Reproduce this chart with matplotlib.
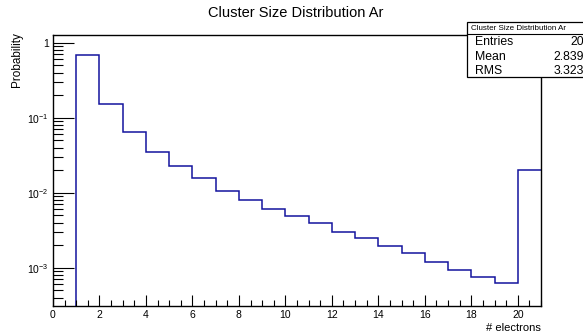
import matplotlib
matplotlib.use('Agg')
import matplotlib.pyplot as plt
import numpy as np
from matplotlib.ticker import LogLocator, MultipleLocator, FixedLocator, NullFormatter
from matplotlib.patches import Rectangle

plt.rcParams['font.family'] = ['Liberation Sans', 'DejaVu Sans']
plt.rcParams['mathtext.fontset'] = 'custom'
plt.rcParams['mathtext.rm'] = 'Liberation Sans'
plt.rcParams['mathtext.it'] = 'Liberation Sans'

# histogram content, bins [0,1), [1,2) ... [20,21)
bin_edges = np.arange(0, 22)
probability = [0.0, 0.686, 0.152, 0.065, 0.0352, 0.0225, 0.0156, 0.01045,
               0.00807, 0.00607, 0.0049, 0.00391, 0.00302, 0.00247, 0.00197,
               0.00158, 0.00118, 0.00093, 0.000744, 0.000619, 0.0199]
stat_names = ['Entries', 'Mean', 'RMS']
stat_values = ['20', '2.839', '3.323']
title = 'Cluster Size Distribution Ar'

W, H = 583, 333
fig = plt.figure(figsize=(W / 100, H / 100), dpi=100)
x0, x1, y0, y1 = 53, 541, 34.7, 305.7
ax = fig.add_axes([x0 / W, 1 - y1 / H, (x1 - x0) / W, (y1 - y0) / H])

ymin = 10 ** -3.507
vals = np.array(probability)
vals = np.where(vals > 0, vals, ymin * 1e-3)
ax.stairs(vals, bin_edges, color='#14149e', lw=1.1, baseline=None)
ax.set_yscale('log')
ax.set_xlim(0, 21)
ax.set_ylim(ymin, 10 ** 0.107)

ax.yaxis.set_major_locator(FixedLocator([1e-3, 1e-2, 1e-1, 1]))
ax.set_yticklabels(['$10^{-3}$', '$10^{-2}$', '$10^{-1}$', '1'])
ax.yaxis.set_minor_locator(LogLocator(base=10, subs=np.arange(2, 10)))
ax.yaxis.set_minor_formatter(NullFormatter())
ax.xaxis.set_major_locator(MultipleLocator(2))
ax.xaxis.set_minor_locator(MultipleLocator(0.5))

ax.tick_params(which='both', direction='in', top=False, right=False,
               labelsize=7.5, width=0.8, color='black')
ax.tick_params(axis='y', which='major', length=15, pad=3)
ax.tick_params(axis='y', which='minor', length=7)
ax.tick_params(axis='x', which='major', length=8, pad=3)
ax.tick_params(axis='x', which='minor', length=4)
for s in ax.spines.values():
    s.set_linewidth(1.0)

ax.set_xlabel('# electrons', fontsize=8, loc='right', labelpad=2)
ax.set_ylabel('Probability', fontsize=8.5, loc='top')
ax.yaxis.set_label_coords(-0.0615, 1.008)
fig.text(296 / W, 1 - 13 / H, title, ha='center', va='center', fontsize=10.5)

# stats box
bx0, by0, by1 = 467.3, 22.3, 76.7
fig.patches.append(Rectangle((bx0 / W, 1 - by1 / H), (600 - bx0) / W, (by1 - by0) / H,
                             transform=fig.transFigure, facecolor='white',
                             edgecolor='black', lw=0.9))
fig.lines.append(plt.Line2D([bx0 / W, 1], [1 - 34.3 / H] * 2,
                            transform=fig.transFigure, color='black', lw=0.8))
fig.text((bx0 + 4) / W, 1 - 28.5 / H, title, ha='left', va='center', fontsize=5.8)
for i, (n, v) in enumerate(zip(stat_names, stat_values)):
    yy = 1 - (42 + 14.5 * i) / H
    fig.text(475 / W, yy, n, ha='left', va='center', fontsize=8.8)
    fig.text(584 / W, yy, v, ha='right', va='center', fontsize=8.8)

fig.savefig('out.png', dpi=100)
